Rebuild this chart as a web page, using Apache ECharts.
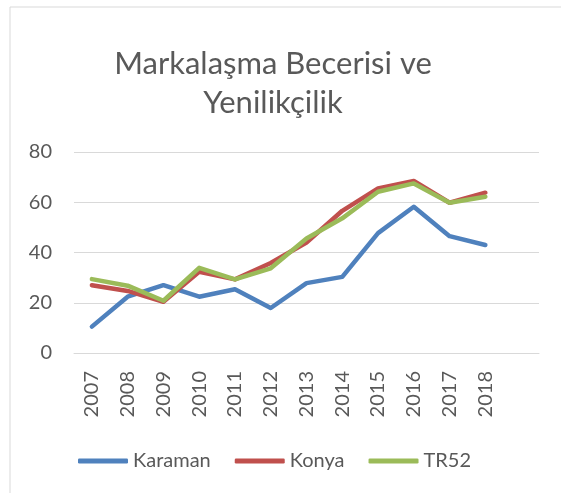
<!DOCTYPE html>
<html>
<head>
<meta charset="utf-8">
<script src="https://cdn.jsdelivr.net/npm/echarts@6/dist/echarts.min.js"></script>
<style>
  html, body { margin: 0; padding: 0; background: #fff; }
  #chart { width: 561px; height: 493px; }
</style>
</head>
<body>
<div id="chart"></div>
<script>
// years on the x axis; Excel leaves one empty slot after 2018
var years = ['2007', '2008', '2009', '2010', '2011', '2012', '2013', '2014', '2015', '2016', '2017', '2018', ''];
var karaman = [10.5, 22.4, 27, 22.4, 25.4, 17.9, 27.8, 30.3, 47.7, 58.2, 46.5, 43];
var konya = [27, 24.7, 20.4, 32.3, 29.3, 35.8, 44, 56.6, 65.5, 68.5, 59.8, 63.8];
var tr52 = [29.4, 26.8, 20.8, 33.9, 29.3, 33.7, 45.6, 53.6, 64.2, 67.5, 59.8, 62.2];

var font = 'Lato, "Open Sans", sans-serif';
var textColor = '#595959';

function lineSeries(name, data, color) {
    return {
        name: name,
        type: 'line',
        data: data,
        color: color,
        symbol: 'none',
        lineStyle: { width: 4.5, color: color, cap: 'round', join: 'round' }
    };
}

var myChart = echarts.init(document.getElementById('chart'));
myChart.setOption({
    animation: false,
    graphic: [{
        type: 'rect',
        shape: { x: 10, y: 7, width: 570, height: 500 },
        style: { fill: 'none', stroke: '#d9d9d9', lineWidth: 1 },
        silent: true
    }],
    title: {
        text: 'Markalaşma Becerisi ve\nYenilikçilik',
        left: 268,
        top: 39,
        textAlign: 'center',
        textStyle: {
            fontFamily: font,
            fontSize: 31,
            fontWeight: 'normal',
            color: textColor,
            lineHeight: 39
        }
    },
    legend: {
        top: 446,
        left: 73,
        icon: 'roundRect',
        itemWidth: 50,
        itemHeight: 5,
        itemGap: 24,
        textStyle: { fontFamily: font, fontSize: 20, color: textColor }
    },
    grid: { left: 74, right: 22, top: 152, bottom: 140 },
    xAxis: {
        type: 'category',
        data: years,
        boundaryGap: true,
        axisLine: { lineStyle: { color: '#d9d9d9', width: 1 } },
        axisTick: { show: false },
        axisLabel: {
            rotate: 90,
            interval: 0,
            margin: 18,
            fontFamily: font,
            fontSize: 20,
            color: textColor
        }
    },
    yAxis: {
        type: 'value',
        min: 0,
        max: 80,
        interval: 20,
        axisLine: { show: false },
        axisTick: { show: false },
        splitLine: { lineStyle: { color: '#d9d9d9', width: 1 } },
        axisLabel: {
            margin: 22,
            fontFamily: font,
            fontSize: 20,
            color: textColor
        }
    },
    series: [
        lineSeries('Karaman', karaman, '#4F81BD'),
        lineSeries('Konya', konya, '#C0504D'),
        lineSeries('TR52', tr52, '#9BBB59')
    ]
});
</script>
</body>
</html>
